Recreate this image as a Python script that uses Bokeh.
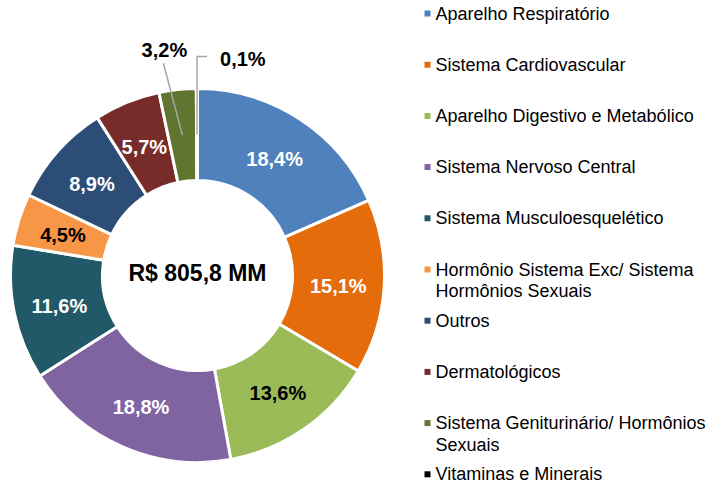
import math
from bokeh.plotting import figure
from bokeh.models import Range1d, ColumnDataSource
from bokeh.core.properties import value
from bokeh.embed import file_html
from bokeh.resources import INLINE

categories = [
    "Aparelho Respiratório",
    "Sistema Cardiovascular",
    "Aparelho Digestivo e Metabólico",
    "Sistema Nervoso Central",
    "Sistema Musculoesquelético",
    "Hormônio Sistema Exc/ Sistema\nHormônios Sexuais",
    "Outros",
    "Dermatológicos",
    "Sistema Geniturinário/ Hormônios\nSexuais",
    "Vitaminas e Minerais",
]
shares = [18.4, 15.1, 13.6, 18.8, 11.6, 4.5, 8.9, 5.7, 3.2, 0.1]
share_labels = ["18,4%", "15,1%", "13,6%", "18,8%", "11,6%", "4,5%", "8,9%", "5,7%", "3,2%", "0,1%"]
colors = ["#4F81BD", "#E46C0A", "#9BBB59", "#8064A2", "#215968",
          "#F79646", "#2C4D75", "#772C2A", "#5F7530", "#000000"]
label_colors = ["white", "white", "black", "white", "white",
                "black", "white", "white", "black", "black"]
center_text = "R$ 805,8 MM"

FONT = value("Liberation Sans")
W, H = 717, 486
p = figure(width=W, height=H, output_backend="svg", toolbar_location=None,
           x_range=Range1d(0, W), y_range=Range1d(486 - H, 486),
           x_axis_type=None, y_axis_type=None, min_border=0,
           outline_line_color=None, background_fill_color="white",
           border_fill_color="white")
p.grid.visible = False

cx, cy = 197, 211
r_out, r_in = 187, 95
r_mid = (r_out + r_in) / 2

total = sum(shares)
starts, ends, mids = [], [], []
cum = 0.0
for v in shares:
    a0 = math.pi / 2 - 2 * math.pi * cum / total
    cum += v
    a1 = math.pi / 2 - 2 * math.pi * cum / total
    starts.append(a0)
    ends.append(a1)
    mids.append((a0 + a1) / 2)

src = ColumnDataSource(dict(start=starts, end=ends, color=colors))
p.annular_wedge(x=cx, y=cy, inner_radius=r_in, outer_radius=r_out,
                start_angle="start", end_angle="end", direction="clock",
                fill_color="color", line_color="white", line_width=3, source=src)

# inside labels
inside = [i for i in range(len(shares)) if shares[i] >= 4]
lx = [cx + r_mid * math.cos(mids[i]) for i in inside]
ly = [cy + r_mid * math.sin(mids[i]) - 2 for i in inside]
p.text(x=lx, y=ly, text=[share_labels[i] for i in inside],
       text_color=[label_colors[i] for i in inside],
       text_font=FONT, text_font_style="bold", text_font_size="20px",
       text_align="center", text_baseline="middle")

# outside label for 3,2%
i = 8
a = mids[i]
x0, y0 = cx + r_mid * math.cos(a), cy + r_mid * math.sin(a)
a_e = a + math.radians(3)
x1, y1 = cx + 215 * math.cos(a_e), cy + 215 * math.sin(a_e)
p.line(x=[x0, x1], y=[y0, y1], line_color="#A6A6A6", line_width=1.5)
p.text(x=[x1 + 1], y=[y1 + 13], text=[share_labels[i]], text_color="black",
       text_font=FONT, text_font_style="bold", text_font_size="20px",
       text_align="center", text_baseline="middle")

# outside label for 0,1%
i = 9
a = mids[i]
x0, y0 = cx + r_mid * math.cos(a), cy + r_mid * math.sin(a)
x1, y1 = x0, cy + 219
x2 = x1 + 10
p.line(x=[x0, x1, x2], y=[y0, y1, y1], line_color="#A6A6A6", line_width=1.5)
p.text(x=[x2 + 13], y=[y1 - 2], text=[share_labels[i]], text_color="black",
       text_font=FONT, text_font_style="bold", text_font_size="20px",
       text_align="left", text_baseline="middle")

# center text
p.text(x=[cx], y=[cy + 3], text=[center_text], text_color="black",
       text_font=FONT, text_font_style="bold", text_font_size="23px",
       text_align="center", text_baseline="middle")

# legend
row_top = 486 - 13
row_step = 51.2
mx, tx = 427, 435
for k, name in enumerate(categories):
    yk = row_top - k * row_step
    p.scatter(x=[mx], y=[yk], marker="square", size=6, fill_color=colors[k],
              line_color=None)
    for j, line in enumerate(name.split("\n")):
        p.text(x=[tx], y=[yk - j * 21.5], text=[line], text_color="black",
               text_font=FONT, text_font_size="18px",
               text_align="left", text_baseline="middle")

open("out.html", "w").write(file_html(p, INLINE))
